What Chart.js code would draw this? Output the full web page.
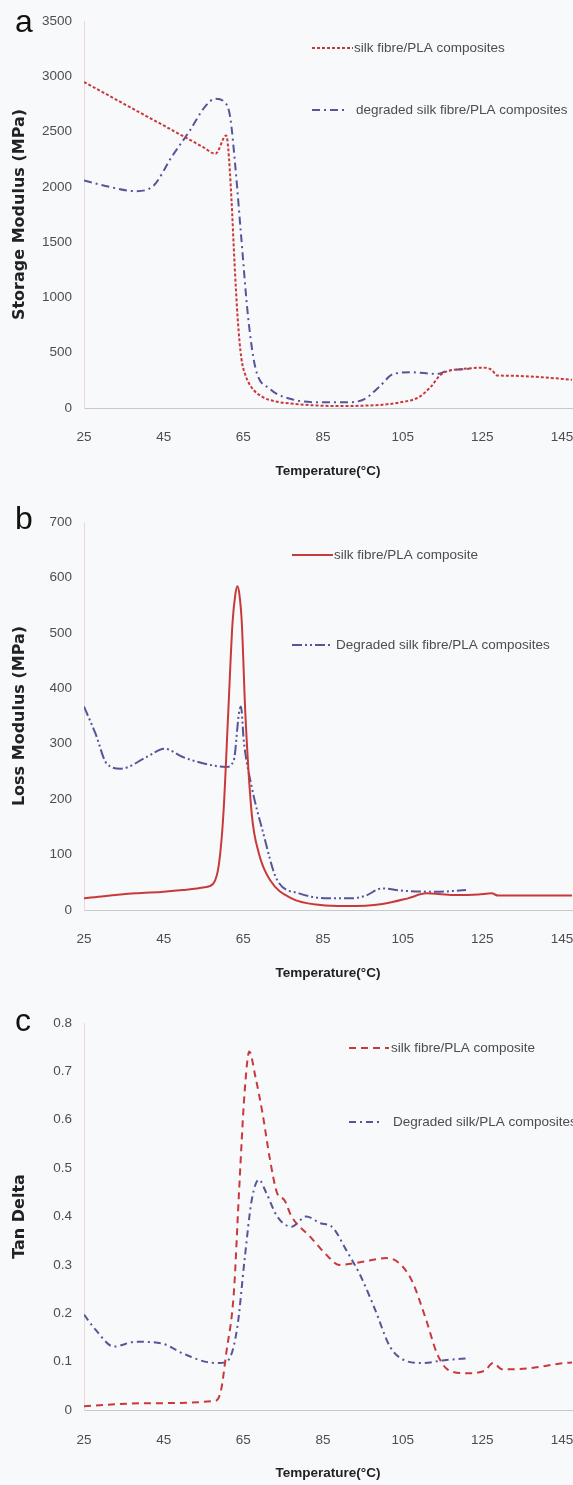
<!DOCTYPE html>
<html><head><meta charset="utf-8">
<script src="https://cdn.jsdelivr.net/npm/chart.js@4.4.1/dist/chart.umd.min.js"></script>
<style>
html,body{margin:0;padding:0;background:#f8f9fb;overflow:hidden;width:573px;height:1485px;}
#wrap{position:relative;width:573px;height:1485px;}
canvas{position:absolute;left:0;}
.lab{position:absolute;left:15px;font:32px 'Liberation Sans',Arial,sans-serif;color:#111;line-height:32px;}
</style></head><body><div id="wrap">
<canvas id="ca" width="573" height="490" style="top:0px"></canvas>
<canvas id="cb" width="573" height="502" style="top:490px"></canvas>
<canvas id="cc" width="573" height="500" style="top:985px"></canvas>
<div class="lab" style="top:5px">a</div>
<div class="lab" style="top:502px">b</div>
<div class="lab" style="top:1004px">c</div>
</div>
<script>
// ---------- data ----------
const tempTicks = [25, 45, 65, 85, 105, 125, 145];
const storageTicks = [0, 500, 1000, 1500, 2000, 2500, 3000, 3500];
const lossTicks = [0, 100, 200, 300, 400, 500, 600, 700];
const tanTicks = [0, 0.1, 0.2, 0.3, 0.4, 0.5, 0.6, 0.7, 0.8];

// (a) storage modulus
const aSilkT = [25, 30, 35, 40, 45, 50, 55, 58, 60.7, 61.2, 62, 62.8, 63.6, 64.5, 65.5, 67, 69.8, 73, 77, 84, 90, 95, 100, 104.5, 109, 112, 114.5, 117, 120, 125.5, 127.5, 128.6, 131.8, 140, 147.5];
const aSilkV = [2948, 2850, 2751, 2653, 2555, 2456, 2358, 2299, 2465, 2350, 1900, 1300, 800, 450, 300, 190, 100, 60, 40, 22, 18, 21, 30, 52, 97, 190, 300, 340, 353, 365, 340, 295, 292, 278, 255];
const aDegT = [25, 31.6, 37.9, 42.5, 47, 51.6, 55.3, 58, 60.3, 61.7, 63, 64.4, 66.2, 68, 71.7, 77, 84.4, 90.8, 95.4, 99, 102.7, 107.2, 113.6, 116.4, 120, 122];
const aDegV = [2058, 1998, 1961, 2013, 2270, 2511, 2722, 2797, 2767, 2631, 2179, 1575, 821, 368, 172, 81, 51, 51, 81, 187, 308, 323, 308, 338, 350, 355];

// (b) loss modulus
const bSilkT = [25, 30, 37.9, 45, 49.8, 55.3, 57.5, 58.9, 60, 61.2, 62.3, 63, 63.5, 64, 64.6, 65.5, 67.1, 68.9, 71.7, 77.1, 84.4, 90.8, 99.9, 106.3, 110.9, 114, 118.2, 124, 127.3, 129, 135, 147.5];
const bSilkV = [21, 25, 30, 33, 36, 41, 48, 84, 174, 355, 520, 570, 584, 570, 520, 355, 174, 102, 54, 21, 9, 7, 11, 21, 30, 29, 27, 28, 30, 26, 26, 26];
const bDegT = [25, 27.9, 30.7, 34.3, 40.7, 45.2, 49.8, 55.3, 60.7, 62.6, 63.9, 64.4, 65.1, 67.1, 69.8, 73.5, 79, 86.3, 91.7, 95.4, 99.9, 104.5, 113.6, 120.9];
const bDegV = [367, 318, 264, 255, 276, 291, 276, 264, 258, 270, 355, 367, 306, 222, 144, 54, 30, 21, 21, 25, 39, 35, 33, 36];

// (c) tan delta
const cSilkT = [25, 40.7, 58, 59.4, 60.7, 62.6, 63.9, 65.3, 66.5, 68, 69.8, 71.7, 73.5, 75.3, 77.1, 81.7, 86.3, 89, 95.4, 100.8, 103.6, 107.2, 110.9, 113.6, 116.4, 120.9, 125.5, 127.7, 130, 136.4, 145.5, 147.5];
const cSilkV = [0.008, 0.014, 0.019, 0.041, 0.117, 0.241, 0.448, 0.655, 0.741, 0.69, 0.614, 0.517, 0.448, 0.434, 0.4, 0.359, 0.317, 0.3, 0.307, 0.314, 0.307, 0.269, 0.186, 0.117, 0.083, 0.076, 0.081, 0.097, 0.084, 0.086, 0.097, 0.098];
const cDegT = [25, 27.9, 32.5, 37.9, 44.3, 49.8, 55.3, 58.9, 61.2, 63.5, 65.3, 67.1, 68.9, 70.8, 73.5, 77.1, 80.8, 84.4, 87.2, 90.8, 94.5, 98.1, 101.8, 105.4, 110, 115.4, 121.8];
const cDegV = [0.197, 0.166, 0.131, 0.141, 0.138, 0.117, 0.1, 0.097, 0.103, 0.172, 0.31, 0.434, 0.476, 0.448, 0.4, 0.379, 0.4, 0.386, 0.379, 0.331, 0.276, 0.207, 0.131, 0.103, 0.097, 0.103, 0.107];

// ---------- styling ----------
const RED = '#c9393b';
const BLUE = '#55559a';
const TXT = '#4d4d4d';
const SANS = "'Liberation Sans',Arial,sans-serif";

const xy = (t, v) => t.map((x, i) => ({x: x, y: v[i]}));

const placedLegend = {
  id: 'placedLegend',
  afterDatasetsDraw(chart, args, opts) {
    const ctx = chart.ctx;
    ctx.save();
    chart.data.datasets.forEach((ds, i) => {
      const it = opts.items[i];
      ctx.beginPath();
      ctx.strokeStyle = ds.borderColor;
      ctx.lineWidth = ds.borderWidth;
      ctx.setLineDash(ds.borderDash || []);
      ctx.moveTo(it.x0, it.y);
      ctx.lineTo(it.x1, it.y);
      ctx.stroke();
      ctx.setLineDash([]);
      ctx.fillStyle = TXT;
      ctx.font = '13.5px ' + SANS;
      ctx.textBaseline = 'middle';
      ctx.textAlign = 'left';
      ctx.fillText(ds.label, it.tx, it.y);
    });
    ctx.restore();
  }
};

function makeChart(id, cfg) {
  return new Chart(document.getElementById(id), {
    type: 'line',
    data: {datasets: cfg.datasets},
    plugins: [placedLegend],
    options: {
      responsive: false,
      animation: false,
      devicePixelRatio: 1,
      layout: {padding: {top: cfg.padTop, right: 1, left: 0, bottom: 0}},
      elements: {point: {radius: 0}, line: {cubicInterpolationMode: 'monotone', fill: false}},
      plugins: {
        legend: {display: false},
        tooltip: {enabled: false},
        placedLegend: {items: cfg.legend}
      },
      scales: {
        x: {
          type: 'linear', min: 25, max: 147.5,
          afterBuildTicks: s => { s.ticks = tempTicks.map(v => ({value: v})); },
          afterFit: s => { s.height = cfg.xHeight; s.paddingLeft = 0; s.paddingRight = 0; },
          grid: {display: false, drawTicks: false},
          border: {display: true, color: '#c9c9c9', width: 1},
          ticks: {padding: cfg.xTickPad, color: TXT, font: {family: SANS, size: 13.5}, maxRotation: 0, autoSkip: false},
          title: {display: true, text: 'Temperature(°C)', color: '#222', font: {family: SANS, size: 13.5, weight: 'bold'}, padding: {top: 0, bottom: cfg.xTitlePad}}
        },
        y: {
          min: cfg.yTicks[0], max: cfg.yTicks[cfg.yTicks.length - 1],
          afterBuildTicks: s => { s.ticks = cfg.yTicks.map(v => ({value: v})); },
          afterFit: s => { s.width = 84; },
          grid: {display: false, drawTicks: false},
          border: {display: true, color: '#ecd6d6', width: 1},
          ticks: {padding: 12, color: TXT, font: {family: SANS, size: 13.5}, callback: v => String(v)},
          title: {display: true, text: cfg.yTitle, color: '#222', font: {family: "'DejaVu Sans',sans-serif", size: 16, weight: 'bold'}, padding: {top: 10, bottom: 0}}
        }
      }
    }
  });
}

makeChart('ca', {
  padTop: 21, xHeight: 82, xTickPad: 21, xTitlePad: 11,
  yTicks: storageTicks, yTitle: 'Storage Modulus (MPa)',
  legend: [{x0: 312, x1: 353, tx: 354, y: 48}, {x0: 312, x1: 345, tx: 356, y: 110}],
  datasets: [
    {label: 'silk fibre/PLA composites', data: xy(aSilkT, aSilkV), borderColor: RED, borderWidth: 2, borderDash: [3, 2]},
    {label: 'degraded silk fibre/PLA composites', data: xy(aDegT, aDegV), borderColor: BLUE, borderWidth: 2, borderDash: [8, 4, 2, 4]}
  ]
});

makeChart('cb', {
  padTop: 32, xHeight: 82, xTickPad: 21, xTitlePad: 11,
  yTicks: lossTicks, yTitle: 'Loss Modulus (MPa)',
  legend: [{x0: 292, x1: 333, tx: 334, y: 65}, {x0: 292, x1: 331, tx: 336, y: 155}],
  datasets: [
    {label: 'silk fibre/PLA composite', data: xy(bSilkT, bSilkV), borderColor: RED, borderWidth: 2, borderDash: []},
    {label: 'Degraded silk fibre/PLA composites', data: xy(bDegT, bDegV), borderColor: BLUE, borderWidth: 2, borderDash: [10, 3, 2, 3, 2, 3]}
  ]
});

makeChart('cc', {
  padTop: 38, xHeight: 75, xTickPad: 22, xTitlePad: 4,
  yTicks: tanTicks, yTitle: 'Tan Delta',
  legend: [{x0: 349, x1: 389, tx: 391, y: 63}, {x0: 349, x1: 382, tx: 393, y: 137}],
  datasets: [
    {label: 'silk fibre/PLA composite', data: xy(cSilkT, cSilkV), borderColor: RED, borderWidth: 2, borderDash: [7, 5]},
    {label: 'Degraded silk/PLA composites', data: xy(cDegT, cDegV), borderColor: BLUE, borderWidth: 2, borderDash: [7, 4, 2, 4]}
  ]
});
</script>
</body></html>
